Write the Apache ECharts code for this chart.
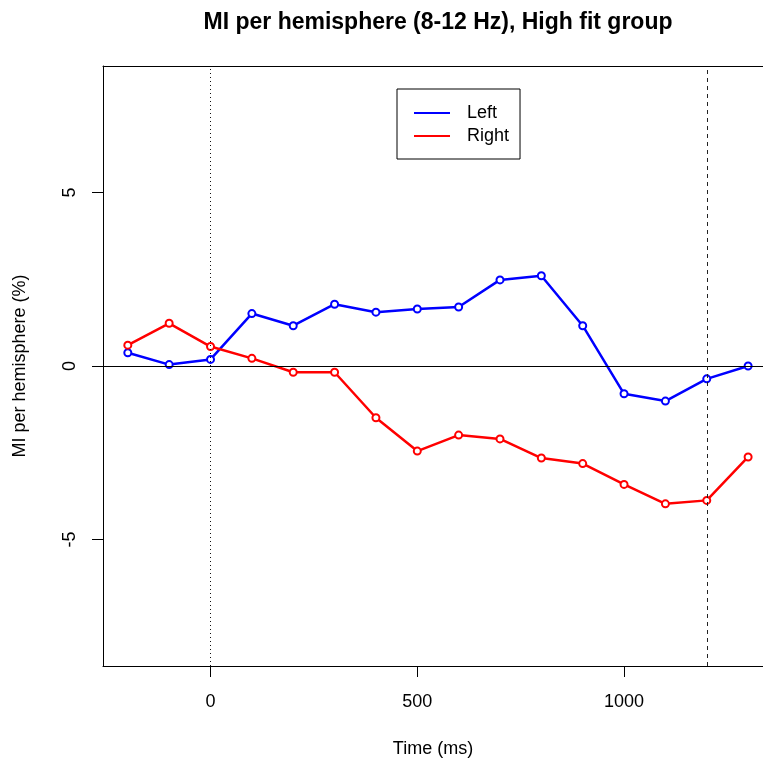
<!DOCTYPE html>
<html>
<head>
<meta charset="utf-8">
<title>MI per hemisphere</title>
<script src="https://cdn.jsdelivr.net/npm/echarts@6/dist/echarts.min.js"></script>
<style>
  html, body { margin: 0; padding: 0; background: #fff; }
  #chart { width: 763px; height: 763px; }
</style>
</head>
<body>
<div id="chart"></div>
<script>
// Time points (ms) and MI per hemisphere (%) for each side
const timeMs = [-200, -100, 0, 100, 200, 300, 400, 500, 600, 700, 800, 900, 1000, 1100, 1200, 1300];
const leftMI = [0.38, 0.04, 0.19, 1.51, 1.16, 1.78, 1.55, 1.64, 1.70, 2.48, 2.60, 1.16, -0.80, -1.01, -0.37, 0.00];
const rightMI = [0.60, 1.23, 0.56, 0.22, -0.18, -0.18, -1.49, -2.45, -1.99, -2.10, -2.65, -2.81, -3.41, -3.97, -3.87, -2.62];
const xTicks = [0, 500, 1000];
const yTicks = [-5, 0, 5];
const stimulusOnset = 0;
const responseTime = 1200;

const font = '"Liberation Sans", Arial, sans-serif';
const xMin = -260, xMax = 1336;

function pairs(xs, ys) { return xs.map((x, i) => [x, ys[i]]); }

const chart = echarts.init(document.getElementById('chart'));
chart.setOption({
  animation: false,
  backgroundColor: '#fff',
  title: {
    text: 'MI per hemisphere (8-12 Hz), High fit group',
    left: 433, top: 6, textAlign: 'center',
    textStyle: { fontFamily: font, fontSize: 23, fontWeight: 'bold', color: '#000' }
  },
  legend: {
    orient: 'vertical',
    left: 397, top: 89,
    padding: [15, 11, 14, 17],
    itemGap: 5,
    itemWidth: 36, itemHeight: 2,
    icon: 'rect',
    itemStyle: { borderWidth: 0 },
    backgroundColor: '#fff',
    borderColor: '#000', borderWidth: 1,
    textStyle: { fontFamily: font, fontSize: 18, color: '#000', padding: [0, 0, 0, 12], lineHeight: 17 },
    data: ['Left', 'Right']
  },
  grid: {
    left: 103, top: 66, right: 0, bottom: 97,
    show: false
  },
  xAxis: [
    {
      type: 'value', min: xMin, max: xMax,
      name: 'Time (ms)', nameLocation: 'middle', nameGap: 74,
      nameTextStyle: { fontFamily: font, fontSize: 18, color: '#000' },
      axisLine: { show: true, onZero: false, lineStyle: { color: '#000', width: 1 } },
      axisTick: { show: true, inside: false, length: 11, customValues: xTicks, lineStyle: { color: '#000' } },
      axisLabel: { customValues: xTicks, margin: 27, fontFamily: font, fontSize: 18, color: '#000',
                   formatter: v => String(v) },
      splitLine: { show: false }
    },
    {
      // top edge of the plot box
      type: 'value', position: 'top', min: xMin, max: xMax,
      axisLine: { show: true, onZero: false, lineStyle: { color: '#000', width: 1 } },
      axisTick: { show: false }, axisLabel: { show: false }, splitLine: { show: false }
    }
  ],
  yAxis: {
    type: 'value', min: -8.64, max: 8.64,
    name: 'MI per hemisphere (%)', nameLocation: 'middle', nameGap: 74, nameRotate: 90,
    nameTextStyle: { fontFamily: font, fontSize: 18, color: '#000' },
    axisLine: { show: true, onZero: false, lineStyle: { color: '#000', width: 1 } },
    axisTick: { show: true, inside: false, length: 11, customValues: yTicks, lineStyle: { color: '#000' } },
    axisLabel: { customValues: yTicks, rotate: 90, margin: 24, fontFamily: font, fontSize: 18, color: '#000' },
    splitLine: { show: false }
  },
  series: [
    {
      name: 'Left', type: 'line',
      data: pairs(timeMs, leftMI),
      symbol: 'emptyCircle', symbolSize: 7,
      lineStyle: { color: '#0000ff', width: 2.5 },
      itemStyle: { color: '#0000ff', borderColor: '#0000ff', borderWidth: 2.2 },
      z: 3,
      markLine: {
        silent: true, symbol: 'none', label: { show: false },
        data: [
          { yAxis: 0, lineStyle: { color: '#000', width: 1, type: 'solid' } },
          { xAxis: stimulusOnset, lineStyle: { color: '#111', width: 1, type: [1, 3] } },
          { xAxis: responseTime, lineStyle: { color: '#222', width: 1, type: [4, 4] } }
        ]
      }
    },
    {
      name: 'Right', type: 'line',
      data: pairs(timeMs, rightMI),
      symbol: 'emptyCircle', symbolSize: 7,
      lineStyle: { color: '#ff0000', width: 2.5 },
      itemStyle: { color: '#ff0000', borderColor: '#ff0000', borderWidth: 2.2 },
      z: 4
    }
  ]
});
</script>
</body>
</html>
